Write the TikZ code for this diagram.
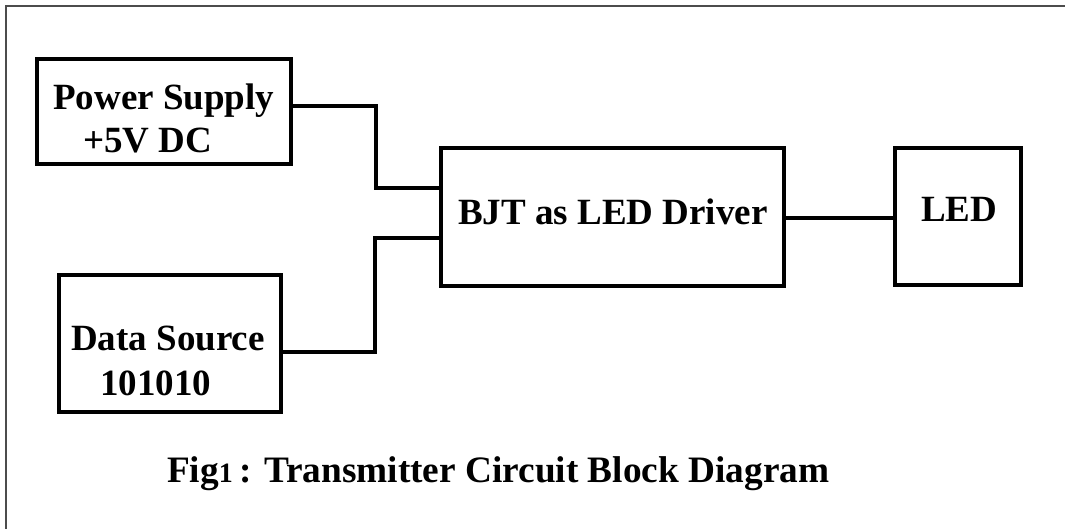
\documentclass[tikz,border=0pt]{standalone}
\usepackage{fontspec}
\setmainfont{Liberation Serif}
\usepackage{tikz}
\tikzset{
  block/.style = {draw, line width=4pt, rectangle, inner sep=0pt},
  wire/.style  = {draw, line width=3.6pt},
  label/.style = {anchor=base west, inner sep=0pt,
                  font=\fontsize{37}{40}\selectfont\bfseries},
}

\begin{document}
\begin{tikzpicture}[x=1pt, y=-1pt]
            \useasboundingbox (0,0) rectangle (1065,529);
            % outer frame (top and left only)
            \draw[black!70, line width=1.3pt] (1065,6) -- (6,6) -- (6,529);

            % blocks
            \node[block, minimum width=254, minimum height=105] (ps)  at (164,111.5) {};
            \node[block, minimum width=343, minimum height=138] (bjt) at (612.5,217) {};
            \node[block, minimum width=222, minimum height=137] (ds)  at (170,343.5) {};
            \node[block, minimum width=126, minimum height=137] (led) at (958,216.5) {};

            % texts
            \node[label] (ps-name)  at (53,110)  {Power Supply};
            \node[label] (ps-volt)  at (83,153)  {+5V DC};
            \node[label] (bjt-name) at (458,225) {BJT as LED Driver};
            \node[label] (led-name) at (921,222) {LED};
            \node[label] (ds-name)  at (71,350)  {Data Source};
            \node[label] (ds-bits)  at (100,395) {101010};
            \node[anchor=base west, inner sep=0pt,
                  font=\fontsize{37.3}{40}\selectfont\bfseries] (caption) at (167,482)
                  {Fig{\fontsize{28}{30}\selectfont 1}\,: Transmitter Circuit Block Diagram};

            % connections
            \draw[wire] (ps.east |- 0,106) -| (376,147) |- (bjt.west |- 0,188);
            \draw[wire] (ds.east |- 0,352) -| (375,300) |- (bjt.west |- 0,238);
            \draw[wire] (bjt.east |- 0,218) -- (led.west |- 0,218);
        \end{tikzpicture}
\end{document}
